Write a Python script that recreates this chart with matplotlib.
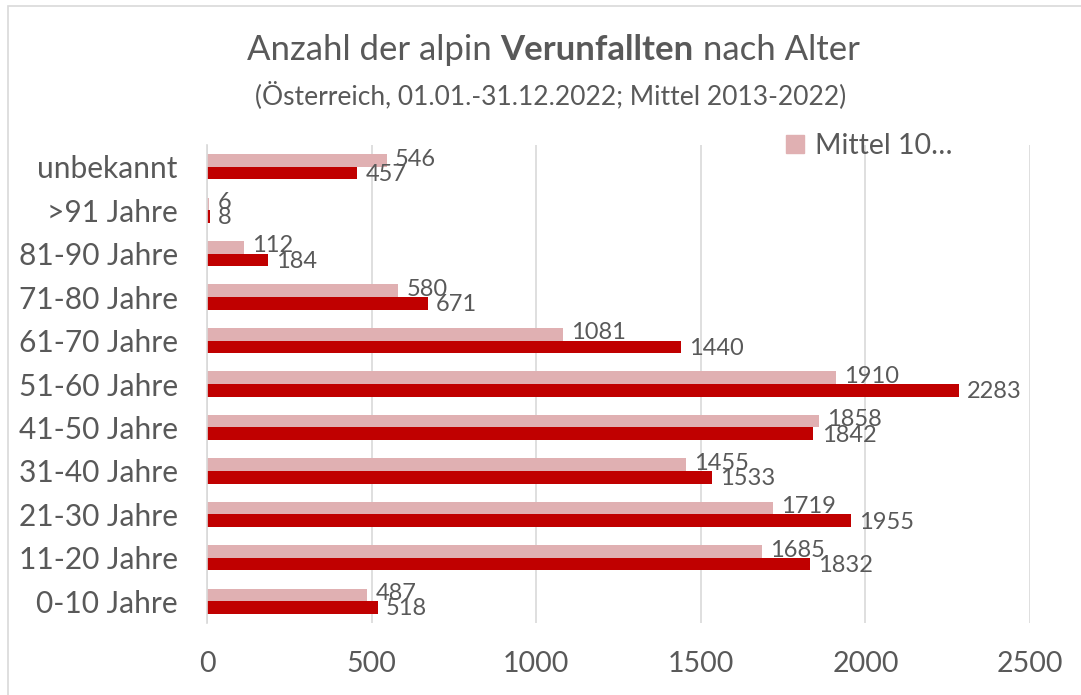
import matplotlib
matplotlib.use("Agg")
import matplotlib.pyplot as plt
from matplotlib.patches import Rectangle, Patch
import numpy as np

plt.rcParams['font.family'] = ['Lato', 'DejaVu Sans']

kategorien = ["0-10 Jahre", "11-20 Jahre", "21-30 Jahre", "31-40 Jahre", "41-50 Jahre",
              "51-60 Jahre", "61-70 Jahre", "71-80 Jahre", "81-90 Jahre", ">91 Jahre", "unbekannt"]
mittel = [487, 1685, 1719, 1455, 1858, 1910, 1081, 580, 112, 6, 546]
jahr2022 = [518, 1832, 1955, 1533, 1842, 2283, 1440, 671, 184, 8, 457]
xticks = [0, 500, 1000, 1500, 2000, 2500]

HELL = "#E0B0B2"
DUNKEL = "#C00000"
GRAU = "#595959"

W, H = 1081, 695
fig = plt.figure(figsize=(W / 100, H / 100), dpi=100)

# Rahmen wie im Excel-Diagramm (rechts/unten abgeschnitten)
fig.patches.append(Rectangle((8 / W, -0.1), 1.2, (H - 6) / H + 0.1, transform=fig.transFigure,
                             fill=False, edgecolor="#D9D9D9", linewidth=1.2))

ax = fig.add_axes([207 / W, (H - 623) / H, (1030 - 207) / W, (623 - 145) / H])

y = np.arange(len(kategorien))
h = 0.29
ax.barh(y + h / 2, mittel, height=h, color=HELL, zorder=2)
ax.barh(y - h / 2, jahr2022, height=h, color=DUNKEL, zorder=2)

for yi, v in zip(y, mittel):
    ax.annotate(str(v), (v, yi + h / 2), xytext=(6, 1), textcoords="offset points",
                va="center", ha="left", fontsize=17, color=GRAU)
for yi, v in zip(y, jahr2022):
    ax.annotate(str(v), (v, yi - h / 2), xytext=(6, -1), textcoords="offset points",
                va="center", ha="left", fontsize=17, color=GRAU)

ax.set_xlim(0, 2500)
ax.set_ylim(-0.5, len(kategorien) - 0.5)
ax.set_xticks(xticks)
ax.set_yticks(y)
ax.set_yticklabels(kategorien)
ax.grid(axis="x", color="#D9D9D9", linewidth=1.2, zorder=0)
for s in ["top", "right", "bottom"]:
    ax.spines[s].set_visible(False)
ax.spines["left"].set_color("#D9D9D9")
ax.spines["left"].set_linewidth(1.2)
ax.tick_params(axis="both", length=0, colors=GRAU)
ax.tick_params(axis="x", pad=20, labelsize=20.5)
ax.tick_params(axis="y", pad=21, labelsize=21.5)

# Titel mit fettem Teil
renderer = fig.canvas.get_renderer()
teile = [("Anzahl der alpin ", "normal"), ("Verunfallten", "bold"), (" nach Alter", "normal")]
texte = [fig.text(0, 1 - 50 / H, t, fontsize=25, fontweight=w, color=GRAU, va="center")
         for t, w in teile]
breiten = [t.get_window_extent(renderer).width for t in texte]
x0 = 553 - sum(breiten) / 2
for t, b in zip(texte, breiten):
    t.set_x(x0 / W)
    x0 += b
fig.text(551 / W, 1 - 95 / H, "(Österreich, 01.01.-31.12.2022; Mittel 2013-2022)",
         fontsize=19, color=GRAU, ha="center", va="center")

fig.legend(handles=[Patch(color=HELL)], labels=["Mittel 10…"], loc="center left",
           bbox_to_anchor=(786 / W, 1 - 146 / H), frameon=False, fontsize=20.5,
           labelcolor=GRAU, handlelength=0.62, handleheight=0.62, handletextpad=0.4,
           borderaxespad=0, borderpad=0)

fig.savefig("out.png", dpi=100)
